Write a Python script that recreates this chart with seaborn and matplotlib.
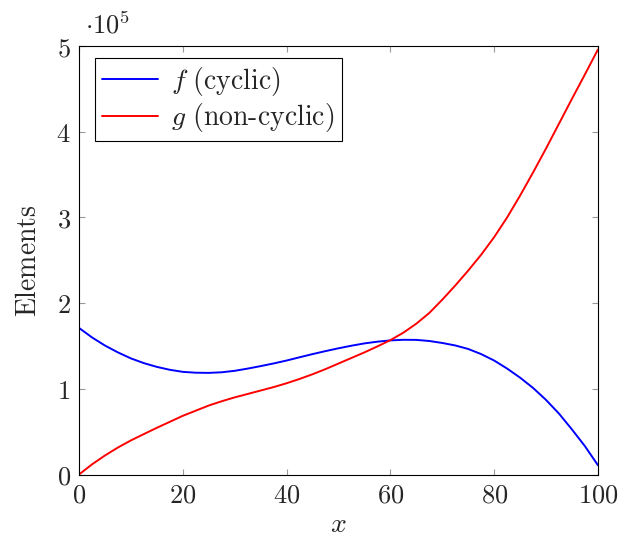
import matplotlib
matplotlib.use("Agg")
import matplotlib.pyplot as plt
import matplotlib.ticker as mticker
import seaborn as sns

# values (units of 1e5)
x_values = [0, 2.5, 5, 7.5, 10, 12.5, 15, 17.5, 20, 22.5, 25, 27.5, 30, 32.5, 35, 37.5, 40,
            42.5, 45, 47.5, 50, 52.5, 55, 57.5, 60, 62.5, 65, 67.5, 70, 72.5, 75, 77.5, 80,
            82.5, 85, 87.5, 90, 92.5, 95, 97.5, 100]
f_cyclic = [1.711, 1.60, 1.505, 1.425, 1.355, 1.30, 1.256, 1.222, 1.198, 1.188, 1.186, 1.193,
            1.21, 1.236, 1.265, 1.296, 1.33, 1.368, 1.405, 1.44, 1.473, 1.503, 1.53, 1.55,
            1.565, 1.572, 1.571, 1.558, 1.535, 1.506, 1.465, 1.405, 1.33, 1.236, 1.13, 1.01,
            0.87, 0.71, 0.525, 0.33, 0.108]
g_noncyclic = [0.0, 0.118, 0.222, 0.315, 0.398, 0.472, 0.545, 0.615, 0.685, 0.745, 0.805,
               0.855, 0.90, 0.94, 0.98, 1.02, 1.065, 1.115, 1.17, 1.23, 1.295, 1.36, 1.425,
               1.495, 1.568, 1.655, 1.76, 1.885, 2.04, 2.205, 2.38, 2.565, 2.77, 3.0, 3.255,
               3.525, 3.805, 4.095, 4.385, 4.67, 4.96]
series_labels = [r"$f\ \mathrm{(cyclic)}$", r"$g\ \mathrm{(non\text{-}cyclic)}$"]
x_ticks = [0, 20, 40, 60, 80, 100]
y_ticks = [0, 1, 2, 3, 4, 5]

sns.set_style("ticks")
plt.rcParams["mathtext.fontset"] = "cm"
plt.rcParams["font.family"] = ["DejaVu Serif"]

fig = plt.figure(figsize=(6.21, 5.42), dpi=100)
ax = fig.add_axes([0.1272, 0.1245, 0.8357, 0.7906])

sns.lineplot(x=x_values, y=f_cyclic, ax=ax, color="#0000ff", linewidth=1.4, label=series_labels[0])
sns.lineplot(x=x_values, y=g_noncyclic, ax=ax, color="#ff0000", linewidth=1.4, label=series_labels[1])

ax.set_xlim(0, 100)
ax.set_ylim(0, 5)
ax.set_xticks(x_ticks)
ax.set_yticks(y_ticks)
fmt = mticker.FuncFormatter(lambda v, pos: f"${v:g}$")
ax.xaxis.set_major_formatter(fmt)
ax.yaxis.set_major_formatter(fmt)
ax.tick_params(direction="in", length=4, width=0.8, color="#999999", labelsize=19,
               top=True, right=True, pad=6)
for spine in ax.spines.values():
    spine.set_linewidth(0.8)
    spine.set_color("black")

ax.set_xlabel(r"$x$", fontsize=20, labelpad=2)
ax.set_ylabel(r"$\mathrm{Elements}$", fontsize=20, labelpad=10)
ax.text(0.012, 1.018, r"$\cdot 10^5$", transform=ax.transAxes, fontsize=19, va="bottom", ha="left")

leg = ax.legend(loc="upper left", fontsize=20, frameon=True, fancybox=False, framealpha=1,
                edgecolor="black", handlelength=2.0, handletextpad=0.5, borderpad=0.25,
                labelspacing=0.12, borderaxespad=0, bbox_to_anchor=(0.031, 0.972))
leg.get_frame().set_linewidth(0.8)

fig.savefig("out.png", dpi=100)
plt.close(fig)
